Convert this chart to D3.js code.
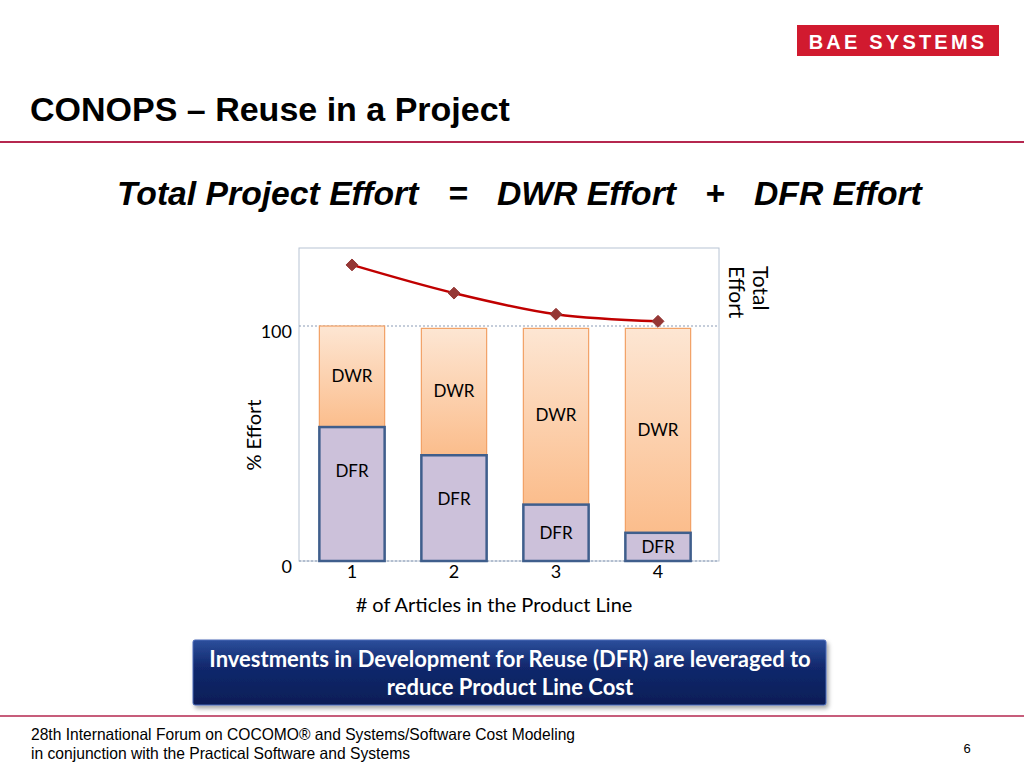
<!DOCTYPE html>
<html lang="en">
<head>
    <meta charset="UTF-8">
    <title>CONOPS – Reuse in a Project</title>
    <script src="https://d3js.org/d3.v7.min.js"></script>
    <style>
        body { margin: 0; background: #fff; }
        svg { display: block; }
    </style>
</head>
<body>
    <svg id="slide" width="1024" height="768"></svg>
    <script>
        // chart data
        const articles = ["1", "2", "3", "4"];
        const dfrEffort = [57, 45, 24, 12];
        const dwrEffort = [43, 54, 75, 87];
        const totalEffort = [126, 114, 105, 102];
        const yTicks = [0, 100];

        const svg = d3.select("#slide");
        const W = 1024, H = 768;

        const defs = svg.append("defs");
        const gOrange = defs.append("linearGradient").attr("id", "dwrGrad")
            .attr("x1", 0).attr("y1", 0).attr("x2", 0).attr("y2", 1);
        gOrange.append("stop").attr("offset", "0%").attr("stop-color", "#fde6d3");
        gOrange.append("stop").attr("offset", "100%").attr("stop-color", "#fbbd8c");
        const gBlue = defs.append("linearGradient").attr("id", "boxGrad")
            .attr("x1", 0).attr("y1", 0).attr("x2", 0).attr("y2", 1);
        gBlue.append("stop").attr("offset", "0%").attr("stop-color", "#2c4f9c");
        gBlue.append("stop").attr("offset", "40%").attr("stop-color", "#12296e");
        gBlue.append("stop").attr("offset", "100%").attr("stop-color", "#0b1d56");
        const shadow = defs.append("filter").attr("id", "shadow")
            .attr("x", "-5%").attr("y", "-20%").attr("width", "110%").attr("height", "150%");
        shadow.append("feDropShadow").attr("dx", 2).attr("dy", 3).attr("stdDeviation", 2)
            .attr("flood-color", "#000").attr("flood-opacity", 0.35);

        // logo
        svg.append("rect").attr("x", 797).attr("y", 25).attr("width", 202).attr("height", 31)
            .attr("fill", "#d11a2f");
        svg.append("text").attr("x", 898).attr("y", 48.5).attr("text-anchor", "middle")
            .attr("font-family", "Arial, Liberation Sans, sans-serif").attr("font-weight", "bold")
            .attr("font-size", 20).attr("letter-spacing", 3.2).attr("fill", "#fff")
            .text("BAE SYSTEMS");

        // title + rules
        svg.append("text").attr("x", 30).attr("y", 121)
            .attr("font-family", "Arial, Liberation Sans, sans-serif").attr("font-weight", "bold")
            .attr("font-size", 34).attr("fill", "#000")
            .text("CONOPS – Reuse in a Project");
        svg.append("line").attr("x1", 0).attr("x2", W).attr("y1", 142).attr("y2", 142)
            .attr("stroke", "#b5274f").attr("stroke-width", 2);
        svg.append("line").attr("x1", 0).attr("x2", W).attr("y1", 716).attr("y2", 716)
            .attr("stroke", "#b5274f").attr("stroke-width", 1.5);

        // equation
        const eq = [["Total Project Effort", 117], ["=", 448], ["DWR Effort", 497], ["+", 705], ["DFR Effort", 754]];
        svg.append("g").selectAll("text").data(eq).join("text")
            .attr("x", d => d[1]).attr("y", 205)
            .attr("font-family", "Arial, Liberation Sans, sans-serif").attr("font-weight", "bold")
            .attr("font-style", "italic").attr("font-size", 33.7).attr("fill", "#000")
            .text(d => d[0]);

        // chart
        const plot = { left: 299, right: 719, top: 248, bottom: 561 };
        const x = d3.scaleBand().domain(articles).range([301, 709]).paddingInner(0.36).paddingOuter(0.18);
        const y = d3.scaleLinear().domain([0, 133.2]).range([plot.bottom, plot.top]);
        const chartFont = "Lato, 'Open Sans', sans-serif";

        svg.append("rect").attr("x", plot.left).attr("y", plot.top)
            .attr("width", plot.right - plot.left).attr("height", plot.bottom - plot.top)
            .attr("fill", "none").attr("stroke", "#b8c4d4").attr("stroke-width", 1);

        svg.append("g").selectAll("line").data(yTicks).join("line")
            .attr("x1", plot.left).attr("x2", plot.right)
            .attr("y1", d => y(d)).attr("y2", d => y(d))
            .attr("stroke", "#8a9bb5").attr("stroke-width", 1).attr("stroke-dasharray", "2,2");

        const yAxis = svg.append("g").attr("transform", `translate(${plot.left},0)`)
            .call(d3.axisLeft(y).tickValues(yTicks).tickSize(0).tickPadding(7));
        yAxis.select(".domain").remove();
        yAxis.selectAll("text").attr("font-family", chartFont).attr("font-size", 18).attr("fill", "#000")
            .attr("dy", "0.65em");

        const xAxis = svg.append("g").attr("transform", `translate(0,${plot.bottom})`)
            .call(d3.axisBottom(x).tickSize(0).tickPadding(4));
        xAxis.select(".domain").remove();
        xAxis.selectAll("text").attr("font-family", chartFont).attr("font-size", 18).attr("fill", "#000");

        const rows = articles.map((a, i) => ({ a, dfr: dfrEffort[i], dwr: dwrEffort[i], total: totalEffort[i] }));

        const bars = svg.append("g");
        bars.selectAll(".dwr").data(rows).join("rect").attr("class", "dwr")
            .attr("x", d => x(d.a)).attr("width", x.bandwidth())
            .attr("y", d => y(d.dfr + d.dwr)).attr("height", d => y(d.dfr) - y(d.dfr + d.dwr))
            .attr("fill", "url(#dwrGrad)").attr("stroke", "#f2a064").attr("stroke-width", 1.2);
        bars.selectAll(".dfr").data(rows).join("rect").attr("class", "dfr")
            .attr("x", d => x(d.a)).attr("width", x.bandwidth())
            .attr("y", d => y(d.dfr)).attr("height", d => y(0) - y(d.dfr))
            .attr("fill", "#ccc1da").attr("stroke", "#3f5e8c").attr("stroke-width", 2.5);

        bars.selectAll(".dwrLbl").data(rows).join("text")
            .attr("x", d => x(d.a) + x.bandwidth() / 2)
            .attr("y", d => (y(d.dfr + d.dwr) + y(d.dfr)) / 2 + 5)
            .attr("text-anchor", "middle").attr("font-family", chartFont).attr("font-size", 17)
            .text("DWR");
        bars.selectAll(".dfrLbl").data(rows).join("text")
            .attr("x", d => x(d.a) + x.bandwidth() / 2)
            .attr("y", d => Math.min((y(d.dfr) + y(0)) / 2, y(d.dfr) + 44) + 6)
            .attr("text-anchor", "middle").attr("font-family", chartFont).attr("font-size", 17)
            .text("DFR");

        const line = d3.line().curve(d3.curveCatmullRom)
            .x(d => x(d.a) + x.bandwidth() / 2).y(d => y(d.total));
        svg.append("path").datum(rows).attr("d", line)
            .attr("fill", "none").attr("stroke", "#c00000").attr("stroke-width", 2.5);
        svg.append("g").selectAll("path").data(rows).join("path")
            .attr("d", d3.symbol(d3.symbolDiamond2, 90))
            .attr("transform", d => `translate(${x(d.a) + x.bandwidth() / 2},${y(d.total)})`)
            .attr("fill", "#953735").attr("stroke", "#953735");

        svg.append("text").attr("transform", "translate(261,435) rotate(-90)")
            .attr("text-anchor", "middle").attr("font-family", chartFont).attr("font-size", 20)
            .text("% Effort");
        svg.append("text").attr("x", 494).attr("y", 612).attr("text-anchor", "middle")
            .attr("font-family", chartFont).attr("font-size", 20)
            .text("# of Articles in the Product Line");
        const te = svg.append("text").attr("transform", "translate(753,266) rotate(90)")
            .attr("font-family", chartFont).attr("font-size", 21);
        te.append("tspan").attr("x", 0).attr("y", 0).text("Total");
        te.append("tspan").attr("x", 0).attr("y", 24).text("Effort");

        // message box
        svg.append("rect").attr("x", 193).attr("y", 640).attr("width", 633).attr("height", 65)
            .attr("rx", 2).attr("fill", "url(#boxGrad)").attr("stroke", "#4a6ab8").attr("stroke-width", 1)
            .attr("filter", "url(#shadow)");
        const msg = ["Investments in Development for Reuse (DFR) are leveraged to", "reduce Product Line Cost"];
        svg.append("g").selectAll("text").data(msg).join("text")
            .attr("x", 510).attr("y", (d, i) => 667 + i * 28).attr("text-anchor", "middle")
            .attr("font-family", chartFont).attr("font-weight", "bold").attr("font-size", 22)
            .attr("fill", "#fff").text(d => d);

        // footer
        const foot = [
            ["28th International Forum on COCOMO® and Systems/Software Cost Modeling", 544],
            ["in conjunction with the Practical Software and Systems", 379]];
        svg.append("g").selectAll("text").data(foot).join("text")
            .attr("x", 31).attr("y", (d, i) => 740 + i * 19)
            .attr("font-family", "Arial, Liberation Sans, sans-serif").attr("font-size", 16.5)
            .attr("textLength", d => d[1]).attr("lengthAdjust", "spacingAndGlyphs")
            .text(d => d[0]);
        svg.append("text").attr("x", 967).attr("y", 753).attr("text-anchor", "middle")
            .attr("font-family", "Arial, Liberation Sans, sans-serif").attr("font-size", 13)
            .text("6");
    </script>
</body>
</html>
